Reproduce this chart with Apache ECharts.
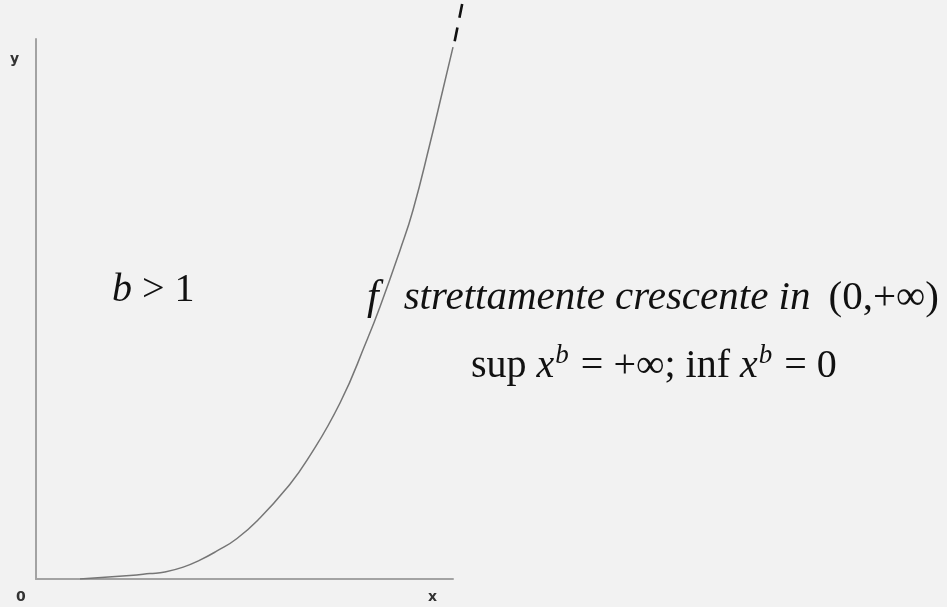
<!DOCTYPE html>
<html>
<head>
<meta charset="utf-8">
<script src="https://cdn.jsdelivr.net/npm/echarts@6/dist/echarts.min.js"></script>
<style>
  html, body { margin: 0; padding: 0; background: #f2f2f2; }
  #chart { width: 947px; height: 607px; }
</style>
</head>
<body>
<div id="chart"></div>
<script>
// Power curve y = x^b (b > 1), sampled points
const curveX = [1.055, 2.25, 2.73, 3.09, 3.53, 3.93, 4.34, 4.82, 5.37, 6.02, 6.50, 7.29, 7.94, 8.25, 8.73, 9.04, 9.45, 9.76, 10.0];
const curveY = [0, 0.065, 0.10, 0.13, 0.22, 0.35, 0.52, 0.75, 1.13, 1.69, 2.20, 3.26, 4.43, 5.04, 6.09, 6.83, 8.07, 9.07, 9.85];

// Dashed continuation past the top of the axes
const dashX = [10.04, 10.22];
const dashY = [9.96, 10.65];

// Axis names
const axisNameX = 'x';
const axisNameY = 'y';
const originLabel = '0';

const toPairs = (xs, ys) => xs.map((x, i) => [x, ys[i]]);

const chart = echarts.init(document.getElementById('chart'));

const serif = '"Liberation Serif", "Times New Roman", serif';
const sans = '"DejaVu Sans", "Liberation Sans", sans-serif';

// Grid 0 carries the visible axes; grid 1 shares the same scale but
// reaches a little further up and right so the dashed tail is not clipped.
const plain = {
  type: 'value',
  axisTick: { show: false },
  axisLabel: { show: false },
  splitLine: { show: false }
};
const shownLine = { show: true, lineStyle: { color: '#a3a3a3', width: 2 } };

chart.setOption({
  backgroundColor: '#f2f2f2',
  animation: false,
  grid: [
    { left: 36, right: 494, top: 39, bottom: 28 },
    { left: 36, right: 473.15, top: 1.2, bottom: 28 }
  ],
  xAxis: [
    Object.assign({}, plain, { gridIndex: 0, min: 0, max: 10, axisLine: shownLine }),
    Object.assign({}, plain, { gridIndex: 1, min: 0, max: 10.5, axisLine: { show: false } })
  ],
  yAxis: [
    Object.assign({}, plain, { gridIndex: 0, min: 0, max: 10, axisLine: shownLine }),
    Object.assign({}, plain, { gridIndex: 1, min: 0, max: 10.7, axisLine: { show: false } })
  ],
  series: [
    {
      type: 'line',
      xAxisIndex: 1,
      yAxisIndex: 1,
      data: toPairs(curveX, curveY),
      smooth: 0.5,
      symbol: 'none',
      lineStyle: { color: '#767676', width: 1.5 }
    },
    {
      type: 'line',
      xAxisIndex: 1,
      yAxisIndex: 1,
      data: toPairs(dashX, dashY),
      symbol: 'none',
      lineStyle: { color: '#111111', width: 2.6, type: [14, 10] }
    }
  ],
  graphic: [
    { type: 'text', left: 10, top: 52, style: { text: axisNameY, font: 'bold 14px ' + sans, fill: '#333' } },
    { type: 'text', left: 16, top: 590, style: { text: originLabel, font: 'bold 14px ' + sans, fill: '#333' } },
    { type: 'text', left: 428, top: 590, style: { text: axisNameX, font: 'bold 14px ' + sans, fill: '#333' } },
    {
      type: 'text', left: 112, top: 270,
      style: {
        text: '{i|b} > 1',
        font: '40px ' + serif,
        fill: '#111',
        rich: { i: { fontStyle: 'italic', fontFamily: serif, fontSize: 40 } }
      }
    },
    {
      type: 'text', left: 367, top: 277,
      style: {
        text: '{f|f}{i|strettamente crescente in}{n|(0,+∞)}',
        font: '41px ' + serif,
        fill: '#111',
        rich: {
          f: { fontStyle: 'italic', fontFamily: serif, fontSize: 42, padding: [0, 25, 0, 0] },
          i: { fontStyle: 'italic', fontFamily: serif, fontSize: 41, padding: [0, 18, 0, 0] },
          n: { fontFamily: serif, fontSize: 41 }
        }
      }
    },
    {
      type: 'text', left: 471, top: 342,
      style: {
        text: '{n|sup }{i|x}{s|b}{n| = +∞; inf }{i|x}{s|b}{n| = 0}',
        font: '40px ' + serif,
        fill: '#111',
        rich: {
          n: { fontFamily: serif, fontSize: 40, lineHeight: 50 },
          i: { fontStyle: 'italic', fontFamily: serif, fontSize: 40, lineHeight: 50 },
          s: { fontStyle: 'italic', fontFamily: serif, fontSize: 27, lineHeight: 50, padding: [0, 2, 22, 1] }
        }
      }
    }
  ]
});
</script>
</body>
</html>
